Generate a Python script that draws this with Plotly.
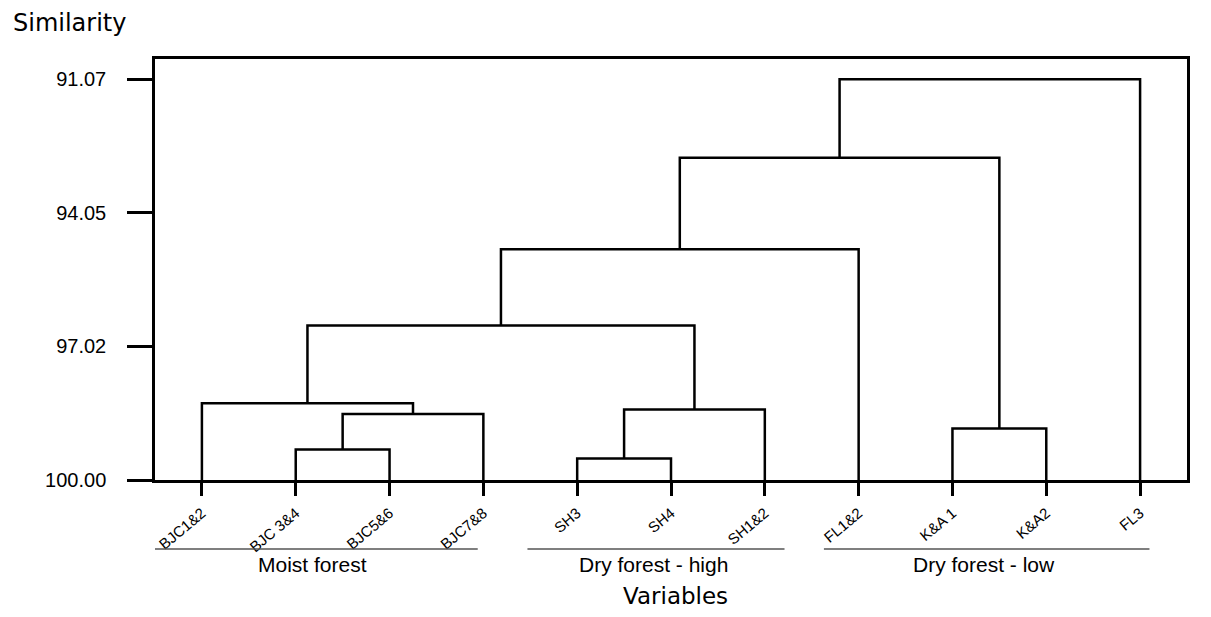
import plotly.graph_objects as go

# ---------------- data ----------------
leaves = ["BJC1&2", "BJC 3&4", "BJC5&6", "BJC7&8", "SH3", "SH4", "SH1&2",
          "FL1&2", "K&A 1", "K&A2", "FL3"]
# merges: node ids 0..10 are leaves, each merge creates node 11, 12, ...
merge_left = [4, 1, 8, 12, 11, 0, 16, 17, 18, 19]
merge_right = [5, 2, 9, 3, 6, 14, 15, 7, 13, 10]
merge_similarity = [99.52, 99.32, 98.85, 98.53, 98.43, 98.29, 96.56, 94.86, 92.82, 91.07]
y_ticks = [91.07, 94.05, 97.02, 100.00]
y_tick_labels = ["91.07", "94.05", "97.02", "100.00"]
group_names = ["Moist forest", "Dry forest - high", "Dry forest - low"]
group_first = [0, 4, 7]
group_last = [3, 6, 10]

# ---------------- styling (layout only) ----------------
group_pad_left = [0.53, 0.53, 0.37]
group_pad_right = [-0.06, 0.21, 0.10]

# ---------------- build dendrogram ----------------
n = len(leaves)
node_x = {i: float(i) for i in range(n)}
node_h = {i: 100.0 for i in range(n)}
xs, ys = [], []
for k, (a, b, h) in enumerate(zip(merge_left, merge_right, merge_similarity)):
    xa, xb = node_x[a], node_x[b]
    xs += [xa, xa, xb, xb, None]
    ys += [node_h[a], h, h, node_h[b], None]
    node_x[n + k] = (xa + xb) / 2
    node_h[n + k] = h

fig = go.Figure()
fig.add_trace(go.Scatter(x=xs, y=ys, mode="lines",
                         line=dict(color="black", width=2.5),
                         hoverinfo="skip", showlegend=False))

# page body has an 8px margin; size figure to fit the window without scrollbars
OFF = 8
W, H = 1195, 601
ml, mt = 155 - OFF, 59 - OFF
mr = (OFF + W) - 1187
mb = (OFF + H) - 480
pw, ph = W - ml - mr, H - mt - mb

def py(pix):
    return (480 - pix) / ph

def px(pix):
    return (pix - 155) / pw

shapes = []
annotations = []
for name, f, l, pl, pr in zip(group_names, group_first, group_last,
                              group_pad_left, group_pad_right):
    x0, x1 = f - pl, l + pr
    shapes.append(dict(type="line", xref="x", yref="paper", x0=x0, x1=x1,
                       y0=py(549), y1=py(549),
                       line=dict(color="#555555", width=1.5)))
    annotations.append(dict(text=name, xref="x", yref="paper", x=(x0 + x1) / 2 - 0.03,
                            y=py(564), showarrow=False, xanchor="center",
                            yanchor="middle",
                            font=dict(family="Liberation Sans, Arial", size=21,
                                      color="black")))

annotations.append(dict(text="Similarity", xref="paper", yref="paper",
                        x=px(11), y=py(23), xanchor="left", yanchor="middle",
                        showarrow=False,
                        font=dict(family="DejaVu Sans", size=24, color="black")))
annotations.append(dict(text="Variables", xref="paper", yref="paper",
                        x=px(675), y=py(610.5), xanchor="center", yanchor="bottom",
                        showarrow=False,
                        font=dict(family="DejaVu Sans", size=23, color="black")))

fig.update_layout(
    width=W, height=H,
    margin=dict(l=ml, r=mr, t=mt, b=mb, pad=0),
    paper_bgcolor="white", plot_bgcolor="white",
    shapes=shapes, annotations=annotations,
    hovermode=False,
    font=dict(family="Liberation Sans, Arial", color="black"),
)
fig.update_xaxes(
    range=[-0.5, n - 0.5], showgrid=False, zeroline=False,
    tickmode="array", tickvals=list(range(n)), ticktext=leaves,
    tickangle=-40, ticks="outside", ticklen=13, tickwidth=2.5, tickcolor="black",
    tickfont=dict(family="Liberation Sans, Arial", size=15, color="black"),
    ticklabelstandoff=3,
    showline=True, linecolor="black", linewidth=2.5, mirror=True,
)
fig.update_yaxes(
    range=[100.0, 90.62], showgrid=False, zeroline=False,
    tickmode="array", tickvals=y_ticks, ticktext=y_tick_labels,
    ticks="outside", ticklen=25, tickwidth=2.5, tickcolor="black",
    tickfont=dict(family="Liberation Sans, Arial", size=20, color="black"),
    ticklabelstandoff=17,
    showline=True, linecolor="black", linewidth=2.5, mirror=True,
)

fig.write_html("out.html")
